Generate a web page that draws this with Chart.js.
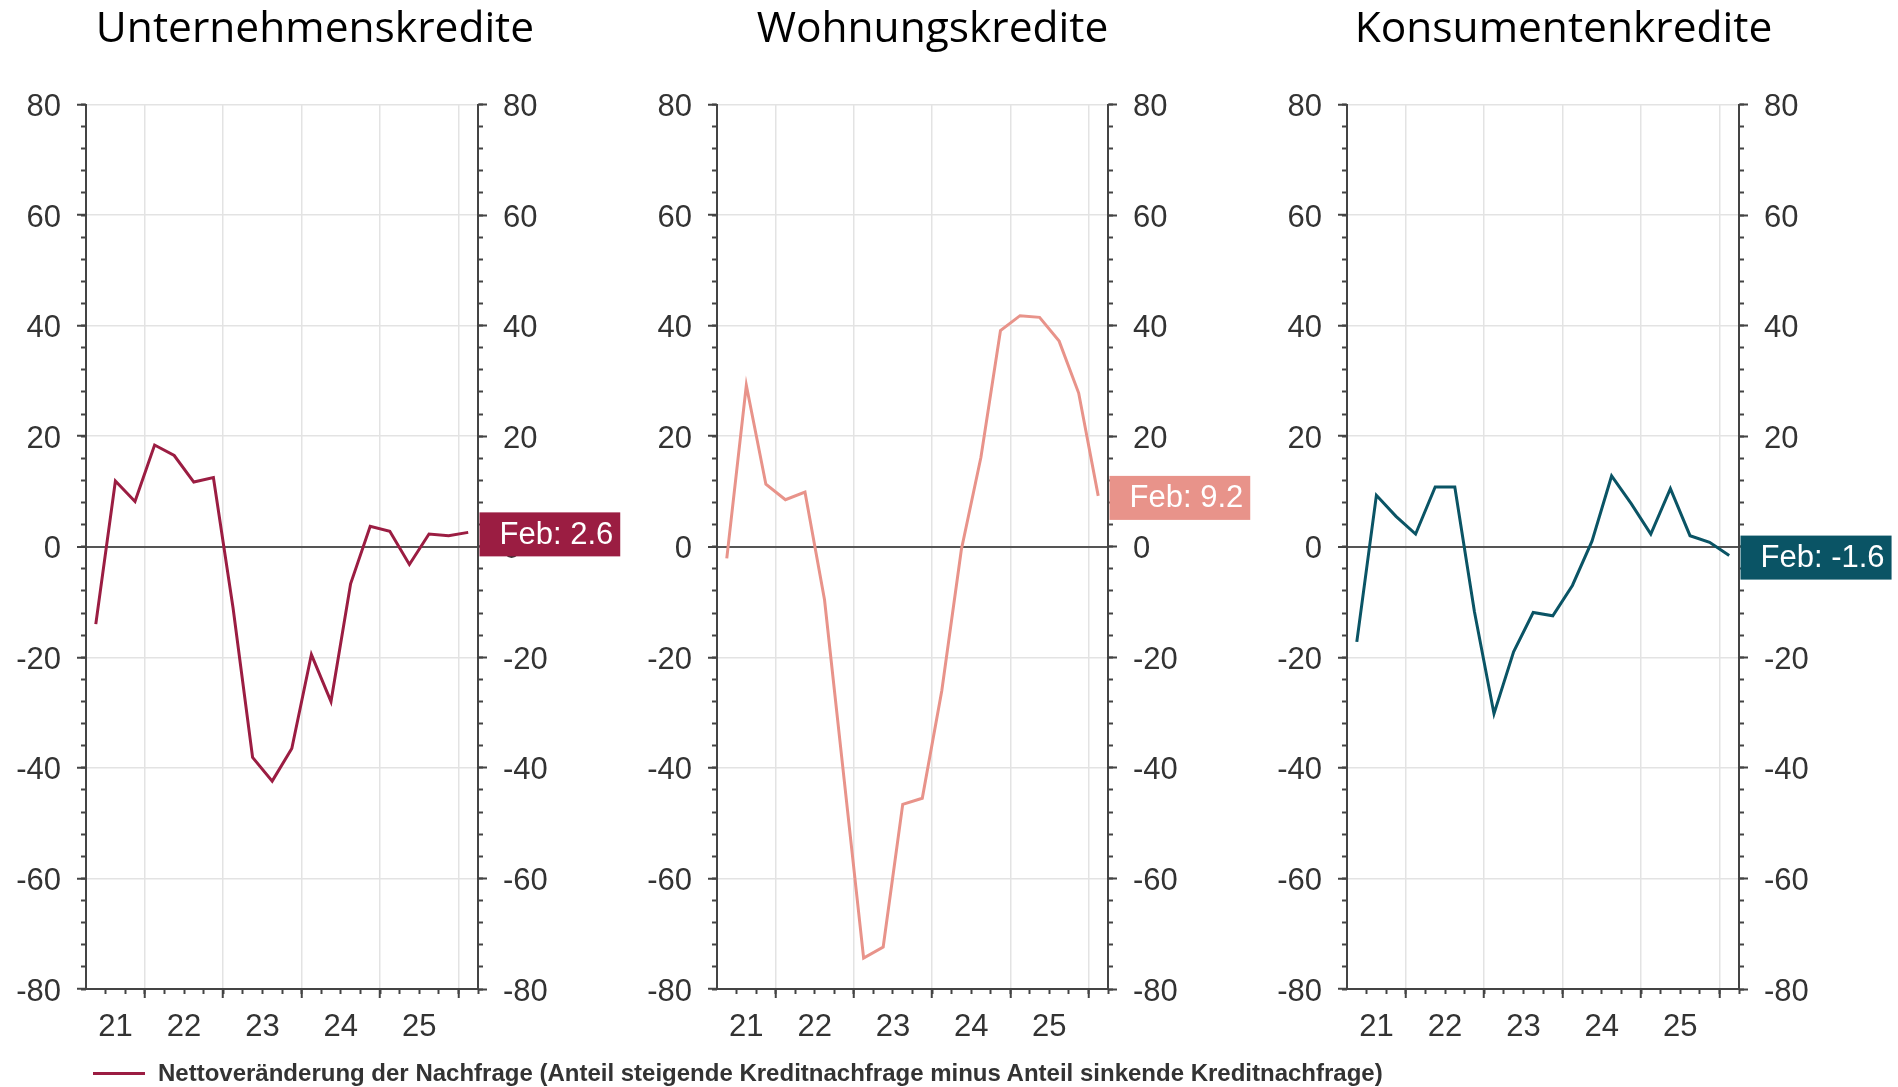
<!DOCTYPE html>
<html>
<head>
<meta charset="utf-8">
<script src="https://cdn.jsdelivr.net/npm/chart.js@4.4.1/dist/chart.umd.min.js"></script>
<style>
  body { margin: 0; background: #fff; width: 1898px; height: 1087px; overflow: hidden; position: relative; }
  canvas { position: absolute; top: 0; }
  #legend { position: absolute; left: 93px; top: 1059px; font: bold 24px "Liberation Sans", Arial, sans-serif; color: #333; line-height: 28px; white-space: nowrap; }
  #legend span { display: inline-block; width: 52px; height: 3px; background: #9b1d42; vertical-align: middle; margin-right: 13px; position: relative; top: -1px; }
</style>
</head>
<body>
<canvas id="c1" width="632" height="1087" style="left:0px"></canvas>
<canvas id="c2" width="632" height="1087" style="left:632px"></canvas>
<canvas id="c3" width="634" height="1087" style="left:1264px"></canvas>
<div id="legend"><span></span>Nettoveränderung der Nachfrage (Anteil steigende Kreditnachfrage minus Anteil sinkende Kreditnachfrage)</div>
<script>
// Quartale Q2 2021 bis Q1 2026
var quarters = ['2021Q2','2021Q3','2021Q4','2022Q1','2022Q2','2022Q3','2022Q4','2023Q1','2023Q2','2023Q3',
                '2023Q4','2024Q1','2024Q2','2024Q3','2024Q4','2025Q1','2025Q2','2025Q3','2025Q4','2026Q1']

var unternehmen = [-14.0, 11.9, 8.2, 18.4, 16.5, 11.7, 12.5, -11.0, -38.1, -42.4,
                   -36.5, -19.5, -28.0, -6.7, 3.7, 2.8, -3.2, 2.3, 2.0, 2.6]
var wohnung = [-2.1, 29.2, 11.3, 8.5, 9.9, -9.6, -42.0, -74.4, -72.4, -46.6,
               -45.5, -26.0, -0.5, 16.2, 39.1, 41.8, 41.5, 37.2, 27.8, 9.2]
var konsum = [-17.2, 9.3, 5.5, 2.3, 10.8, 10.8, -11.7, -30.2, -19.0, -11.9,
              -12.5, -7.0, 1.0, 12.8, 7.8, 2.3, 10.5, 2.0, 0.8, -1.6]

var years = [2021, 2022, 2023, 2024, 2025]
var yearLabels = ['21', '22', '23', '24', '25']
var yMin = -80, yMax = 80
var lastMonth = 'Feb'

var FONT = '"Liberation Sans", Arial, sans-serif'
var AXIS = '#444'
var GRID = '#e3e3e3'

function qPos(q) {
  return +q.slice(0, 4) + (+q[5] - 1) * 0.25 + 0.125
}
var xMin = qPos(quarters[0]) - 0.125
var xMax = qPos(quarters[quarters.length - 1]) + 0.125

var quarterTicks = []
for (var t = xMin + 0.25; t <= xMax + 1e-9; t += 0.25) quarterTicks.push(+t.toFixed(2))

var labelPos = years.map(function (y) {
  return (Math.max(y, xMin) + Math.min(y + 1, xMax)) / 2
})
var yearTicks = years.slice(1).concat([2026]).filter(function (y) { return y < xMax })

function isYear(v) { return Math.abs(v - Math.round(v)) < 1e-6 }

var lastLabel = {
  id: 'lastLabel',
  afterDraw: function (chart, args, opts) {
    var ctx = chart.ctx, area = chart.chartArea
    var data = chart.data.datasets[0].data
    var v = data[data.length - 1].y
    var y = chart.scales.yL.getPixelForValue(v) + 2
    var text = lastMonth + ': ' + v.toFixed(1)
    ctx.save()
    ctx.font = '31px ' + FONT
    var w = ctx.measureText(text).width + 27
    ctx.fillStyle = opts.color
    ctx.fillRect(area.right + 1.5, y - 22, w, 44)
    ctx.fillStyle = '#fff'
    ctx.textBaseline = 'middle'
    ctx.fillText(text, area.right + 21.5, y + 1)
    ctx.restore()
  }
}

function makeChart(id, title, values, color, padRight, wl, wr) {
  var pts = values.map(function (v, i) { return { x: qPos(quarters[i]), y: v } })
  return new Chart(document.getElementById(id), {
    type: 'line',
    plugins: [lastLabel],
    data: {
      datasets: [{
        data: pts,
        borderColor: color,
        borderWidth: 3,
        pointRadius: 0,
        tension: 0,
        xAxisID: 'xy',
        yAxisID: 'yL',
      }],
    },
    options: {
      responsive: false,
      animation: false,
      layout: { padding: { left: 0, right: padRight, top: 0, bottom: 38 } },
      plugins: {
        legend: { display: false },
        tooltip: { enabled: false },
        title: {
          display: true,
          text: title,
          color: '#000',
          font: { family: '"Open Sans", "Noto Sans", sans-serif', size: 42.5, weight: 'normal' },
          padding: { top: 4, bottom: 49.5 },
        },
        lastLabel: { color: color },
      },
      scales: {
        xq: {
          type: 'linear', position: 'bottom', min: xMin, max: xMax, weight: 0,
          afterBuildTicks: function (s) { s.ticks = quarterTicks.map(function (v) { return { value: v } }) },
          afterFit: function (s) { s.height = 0 },
          ticks: { display: false },
          border: { display: false },
          grid: { drawOnChartArea: false, tickLength: 5, tickColor: AXIS, tickWidth: 2 },
        },
        xy: {
          type: 'linear', position: 'bottom', min: xMin, max: xMax, weight: 1,
          afterBuildTicks: function (s) {
            s.ticks = yearTicks.concat(labelPos).sort().map(function (v) { return { value: v } })
          },
          afterFit: function (s) { s.height = 60 },
          ticks: {
            autoSkip: false, maxRotation: 0, padding: 11, color: '#333',
            font: { family: FONT, size: 31 },
            callback: function (v) {
              var i = labelPos.indexOf(v)
              return i < 0 ? '' : yearLabels[i]
            },
          },
          border: { display: true, color: AXIS, width: 2 },
          grid: {
            tickLength: 9, tickWidth: 2, lineWidth: 1.5,
            color: function (c) { return c.tick && isYear(c.tick.value) ? GRID : 'rgba(0,0,0,0)' },
            tickColor: function (c) { return c.tick && isYear(c.tick.value) ? AXIS : 'rgba(0,0,0,0)' },
          },
        },
        yl: {
          type: 'linear', position: 'left', min: yMin, max: yMax, weight: 0,
          ticks: { display: false, stepSize: 4 },
          afterFit: function (s) { s.width = 0 },
          border: { display: false },
          grid: { drawOnChartArea: false, tickLength: 5, tickColor: AXIS, tickWidth: 2 },
        },
        yL: {
          type: 'linear', position: 'left', min: yMin, max: yMax, weight: 1,
          ticks: { stepSize: 20, padding: 16, labelOffset: 3, color: '#333', font: { family: FONT, size: 31 } },
          afterFit: function (s) { s.width = wl },
          border: { display: true, color: AXIS, width: 2 },
          grid: {
            tickLength: 9, tickWidth: 2, tickColor: AXIS,
            color: function (c) { return c.tick && c.tick.value === 0 ? '#555' : GRID },
            lineWidth: function (c) { return c.tick && c.tick.value === 0 ? 2 : 1.5 },
          },
        },
        yr: {
          type: 'linear', position: 'right', min: yMin, max: yMax, weight: 0,
          ticks: { display: false, stepSize: 4 },
          afterFit: function (s) { s.width = 0 },
          border: { display: false },
          grid: { drawOnChartArea: false, tickLength: 5, tickColor: AXIS, tickWidth: 2 },
        },
        yR: {
          type: 'linear', position: 'right', min: yMin, max: yMax, weight: 1,
          ticks: { stepSize: 20, padding: 16, labelOffset: 3, color: '#333', font: { family: FONT, size: 31 } },
          afterFit: function (s) { s.width = wr },
          border: { display: true, color: AXIS, width: 2 },
          grid: { drawOnChartArea: false, tickLength: 9, tickWidth: 2, tickColor: AXIS },
        },
      },
    },
  })
}

makeChart('c1', 'Unternehmenskredite', unternehmen, '#9b1d42', 2, 86, 152)
makeChart('c2', 'Wohnungskredite', wohnung, '#e8938a', 31, 85, 125)
makeChart('c3', 'Konsumentenkredite', konsum, '#0a5465', 35, 83, 124)
</script>
</body>
</html>
